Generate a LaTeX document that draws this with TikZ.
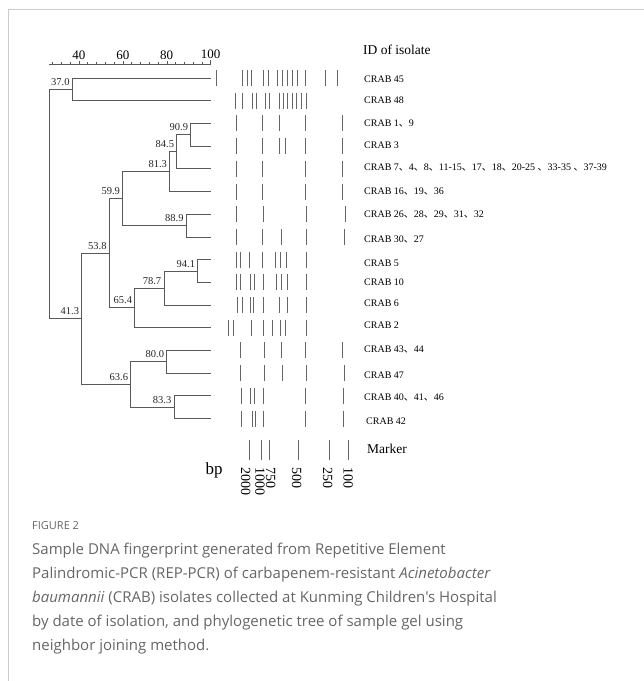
\documentclass[tikz,border=0pt]{standalone}
\usepackage{fontspec}
\setmainfont{Liberation Serif}
\newfontfamily\capfont{Open Sans}
\newfontfamily\cjk{Noto Sans CJK SC}
\newcommand{\dn}{{\cjk 、}}
\usetikzlibrary{positioning}

\begin{document}
\begin{tikzpicture}
[x=1pt, y=-1pt,
 frame/.style={draw=black!20, line width=0.8pt},
 branch/.style={draw=black!65, line width=0.8pt},
 band/.style={draw=black!60, line width=1pt},
 val/.style={font=\fontsize{10.5}{12}\selectfont, inner sep=1pt, text=black!85},
 crab/.style={anchor=west, inner sep=0pt, font=\fontsize{10}{12}\selectfont},
 big/.style={anchor=west, inner sep=0pt, font=\fontsize{13.5}{15}\selectfont},
 size/.style={rotate=-90, anchor=west, inner sep=0pt, font=\fontsize{14}{16}\selectfont},
 scalelab/.style={font=\fontsize{13}{15}\selectfont, inner sep=0pt}]
\useasboundingbox (0,0) rectangle (644,681);
\draw[frame] (8,681) -- (8,9) -- (644,9);
% scale
\node[scalelab] (s40) at (78.9,55) {40};
\node[scalelab] (s60) at (122.8,55) {60};
\node[scalelab] (s80) at (166.7,55) {80};
\node[scalelab] (s100) at (210.7,54) {100};
\draw[branch, line width=0.6pt] (49.3,64) -- (210.7,64)
  (210.7,64) -- ++(0,-4) (201.9,64) -- ++(0,-2) (193.1,64) -- ++(0,-2)
  (184.3,64) -- ++(0,-2) (175.6,64) -- ++(0,-2) (166.8,64) -- ++(0,-3)
  (158.0,64) -- ++(0,-2) (149.2,64) -- ++(0,-2) (140.4,64) -- ++(0,-2)
  (131.6,64) -- ++(0,-2) (122.9,64) -- ++(0,-3) (114.1,64) -- ++(0,-2)
  (105.3,64) -- ++(0,-2) (96.5,64) -- ++(0,-2) (87.7,64) -- ++(0,-2)
  (78.9,64) -- ++(0,-3) (70.2,64) -- ++(0,-2) (61.4,64) -- ++(0,-2)
  (52.6,64) -- ++(0,-2);
% leaves
\coordinate (c45) at (210.7,78);
\coordinate (c48) at (210.7,100.7);
\coordinate (c1) at (210.7,123.4);
\coordinate (c3) at (210.7,146.1);
\coordinate (c7) at (210.7,168.8);
\coordinate (c16) at (210.7,191.5);
\coordinate (c26) at (210.7,214.2);
\coordinate (c30) at (210.7,236.9);
\coordinate (c5) at (210.7,259.6);
\coordinate (c10) at (210.7,282.3);
\coordinate (c6) at (210.7,305);
\coordinate (c2) at (210.7,327.7);
\coordinate (c43) at (210.7,350.4);
\coordinate (c47) at (210.7,373.1);
\coordinate (c40) at (210.7,395.8);
\coordinate (c42) at (210.7,418.5);
% inner nodes
\coordinate (n90) at (190.7,134.75);
\coordinate (n84) at (176.7,151.8);
\coordinate (n81) at (169.6,171.65);
\coordinate (n88) at (186.3,225.55);
\coordinate (n59) at (122.6,198.6);
\coordinate (n94) at (197.7,270.95);
\coordinate (n78) at (163.9,287.98);
\coordinate (n65) at (134.7,307.84);
\coordinate (n53) at (109.2,253.22);
\coordinate (n80) at (166.8,361.75);
\coordinate (n83) at (174.0,407.15);
\coordinate (n63) at (130.8,384.45);
\coordinate (n41) at (81.8,318.84);
\coordinate (n37) at (72.3,89.35);
\coordinate (root) at (49.3,204.1);
\draw[branch] (root) |- (n37);
\draw[branch] (root) |- (n41);
\draw[branch] (n37) |- (c45);
\draw[branch] (n37) |- (c48);
\draw[branch] (n41) |- (n53);
\draw[branch] (n41) |- (n63);
\draw[branch] (n53) |- (n59);
\draw[branch] (n53) |- (n65);
\draw[branch] (n59) |- (n81);
\draw[branch] (n59) |- (n88);
\draw[branch] (n81) |- (n84);
\draw[branch] (n81) |- (c16);
\draw[branch] (n84) |- (n90);
\draw[branch] (n84) |- (c7);
\draw[branch] (n90) |- (c1);
\draw[branch] (n90) |- (c3);
\draw[branch] (n88) |- (c26);
\draw[branch] (n88) |- (c30);
\draw[branch] (n65) |- (n78);
\draw[branch] (n65) |- (c2);
\draw[branch] (n78) |- (n94);
\draw[branch] (n78) |- (c6);
\draw[branch] (n94) |- (c5);
\draw[branch] (n94) |- (c10);
\draw[branch] (n63) |- (n80);
\draw[branch] (n63) |- (n83);
\draw[branch] (n80) |- (c43);
\draw[branch] (n80) |- (c47);
\draw[branch] (n83) |- (c40);
\draw[branch] (n83) |- (c42);
% similarity values
\node[val, above left=2.5pt and 1.5pt of n37] {37.0};
\node[val, above left=2.5pt and 1.5pt of n41] {41.3};
\node[val, above left=2.5pt and 1.5pt of n53] {53.8};
\node[val, above left=2.5pt and 1.5pt of n59] {59.9};
\node[val, above left=2.5pt and 1.5pt of n81] {81.3};
\node[val, above left=2.5pt and 1.5pt of n84] {84.5};
\node[val, above left=2.5pt and 1.5pt of n90] {90.9};
\node[val, above left=2.5pt and 1.5pt of n88] {88.9};
\node[val, above left=2.5pt and 1.5pt of n65] {65.4};
\node[val, above left=2.5pt and 1.5pt of n78] {78.7};
\node[val, above left=2.5pt and 1.5pt of n94] {94.1};
\node[val, above left=2.5pt and 1.5pt of n63] {63.6};
\node[val, above left=2.5pt and 1.5pt of n80] {80.0};
\node[val, above left=2.5pt and 1.5pt of n83] {83.3};
% gel lanes
\draw[band] (216,70) -- ++(0,16) (242.3,70) -- ++(0,16) (247,70) -- ++(0,16)
  (251.7,70) -- ++(0,16) (263.7,70) -- ++(0,16) (268.3,70) -- ++(0,16)
  (277.3,70) -- ++(0,16) (282,70) -- ++(0,16) (287.3,70) -- ++(0,16)
  (292.7,70) -- ++(0,16) (297.7,70) -- ++(0,16) (305,70) -- ++(0,16)
  (325.7,70) -- ++(0,16) (337.7,70) -- ++(0,16);
\draw[band] (235,92.7) -- ++(0,16) (242.5,92.7) -- ++(0,16) (252,92.7) -- ++(0,16)
  (256,92.7) -- ++(0,16) (265,92.7) -- ++(0,16) (269,92.7) -- ++(0,16)
  (279,92.7) -- ++(0,16) (283,92.7) -- ++(0,16) (287.5,92.7) -- ++(0,16)
  (292,92.7) -- ++(0,16) (296.5,92.7) -- ++(0,16) (301,92.7) -- ++(0,16)
  (306.7,92.7) -- ++(0,16);
\draw[band] (236,115.4) -- ++(0,16) (262.3,115.4) -- ++(0,16) (279.3,115.4) -- ++(0,16)
  (305.3,115.4) -- ++(0,16) (342.7,115.4) -- ++(0,16);
\draw[band] (236,138.1) -- ++(0,16) (262.3,138.1) -- ++(0,16) (279.3,138.1) -- ++(0,16)
  (285.7,138.1) -- ++(0,16) (305.3,138.1) -- ++(0,16) (342.7,138.1) -- ++(0,16);
\draw[band] (236,160.8) -- ++(0,16) (262.3,160.8) -- ++(0,16) (305.3,160.8) -- ++(0,16)
  (342.7,160.8) -- ++(0,16);
\draw[band] (236,183.5) -- ++(0,16) (262.3,183.5) -- ++(0,16) (305.3,183.5) -- ++(0,16)
  (342.7,183.5) -- ++(0,16);
\draw[band] (236,206.2) -- ++(0,16) (263.3,206.2) -- ++(0,16) (306,206.2) -- ++(0,16)
  (345.3,206.2) -- ++(0,16);
\draw[band] (236,228.9) -- ++(0,16) (262.7,228.9) -- ++(0,16) (281.3,228.9) -- ++(0,16)
  (306,228.9) -- ++(0,16) (344.3,228.9) -- ++(0,16);
\draw[band] (236,251.6) -- ++(0,16) (240,251.6) -- ++(0,16) (249.3,251.6) -- ++(0,16)
  (262.7,251.6) -- ++(0,16) (275.3,251.6) -- ++(0,16) (280,251.6) -- ++(0,16)
  (286.7,251.6) -- ++(0,16) (306,251.6) -- ++(0,16);
\draw[band] (236,274.3) -- ++(0,16) (240,274.3) -- ++(0,16) (250,274.3) -- ++(0,16)
  (254.3,274.3) -- ++(0,16) (263.3,274.3) -- ++(0,16) (276.7,274.3) -- ++(0,16)
  (281.7,274.3) -- ++(0,16) (287.3,274.3) -- ++(0,16) (306,274.3) -- ++(0,16);
\draw[band] (237.3,297) -- ++(0,16) (242,297) -- ++(0,16) (250,297) -- ++(0,16)
  (253.3,297) -- ++(0,16) (263.3,297) -- ++(0,16) (279.3,297) -- ++(0,16)
  (287.3,297) -- ++(0,16) (306,297) -- ++(0,16);
\draw[band] (228.7,319.7) -- ++(0,16) (233.3,319.7) -- ++(0,16) (251,319.7) -- ++(0,16)
  (263.3,319.7) -- ++(0,16) (272.7,319.7) -- ++(0,16) (280,319.7) -- ++(0,16)
  (285,319.7) -- ++(0,16) (306,319.7) -- ++(0,16);
\draw[band] (240.7,342.4) -- ++(0,16) (264.3,342.4) -- ++(0,16) (281.3,342.4) -- ++(0,16)
  (305.3,342.4) -- ++(0,16) (342.7,342.4) -- ++(0,16);
\draw[band] (240.7,365.1) -- ++(0,16) (264.3,365.1) -- ++(0,16) (282,365.1) -- ++(0,16)
  (306,365.1) -- ++(0,16) (344.7,365.1) -- ++(0,16);
\draw[band] (241.3,387.8) -- ++(0,16) (250.7,387.8) -- ++(0,16) (254,387.8) -- ++(0,16)
  (263.3,387.8) -- ++(0,16) (305.3,387.8) -- ++(0,16) (343.3,387.8) -- ++(0,16);
\draw[band] (241.3,410.5) -- ++(0,16) (252.7,410.5) -- ++(0,16) (255,410.5) -- ++(0,16)
  (263.3,410.5) -- ++(0,16) (305.3,410.5) -- ++(0,16) (343.3,410.5) -- ++(0,16);
% marker lane
\draw[band] (249.3,440) -- ++(0,20) (261,440) -- ++(0,20) (269.3,440) -- ++(0,20)
  (298.5,440) -- ++(0,20) (329,440) -- ++(0,20) (348,440) -- ++(0,20);
% isolate IDs
\node[big] (head) at (363,50) {ID of isolate};
\node[crab] (l45) at (364,79) {CRAB 45};
\node[crab] (l48) at (364,100.7) {CRAB 48};
\node[crab] (l1) at (364,123) {CRAB 1\dn 9};
\node[crab] (l3) at (364,145) {CRAB 3};
\node[crab] (l7) at (364,167) {CRAB 7\dn 4\dn 8\dn 11-15\dn 17\dn 18\dn 20-25 \dn 33-35 \dn 37-39};
\node[crab] (l16) at (364,191) {CRAB 16\dn 19\dn 36};
\node[crab] (l26) at (364,214) {CRAB 26\dn 28\dn 29\dn 31\dn 32};
\node[crab] (l30) at (364,239) {CRAB 30\dn 27};
\node[crab] (l5) at (364,263) {CRAB 5};
\node[crab] (l10) at (364,282) {CRAB 10};
\node[crab] (l6) at (364,303.5) {CRAB 6};
\node[crab] (l2) at (364,325.5) {CRAB 2};
\node[crab] (l43) at (364,349) {CRAB 43\dn 44};
\node[crab] (l47) at (364,375) {CRAB 47};
\node[crab] (l40) at (364,397) {CRAB 40\dn 41\dn 46};
\node[crab] (l42) at (366,421) {CRAB 42};
\node[big] (mark) at (367,449) {Marker};
% fragment sizes
\node[font=\fontsize{17}{19}\selectfont, inner sep=0pt] (bp) at (214,470) {bp};
\node[size] (m2000) at (245.7,467) {2000};
\node[size] (m1000) at (260,467) {1000};
\node[size] (m750) at (270.7,467) {750};
\node[size] (m500) at (296.7,467) {500};
\node[size] (m250) at (327.7,467) {250};
\node[size] (m100) at (348.3,467) {100};
% caption
\node[anchor=base west, inner sep=0pt, text=black!60, font=\capfont\fontsize{11}{13}\selectfont] (fig) at (32,529) {FIGURE 2};
\node[anchor=north west, inner sep=0pt, align=left, text=black!60,
      font=\capfont\fontsize{15}{24}\selectfont] (cap) at (32,543)
 {Sample DNA fingerprint generated from Repetitive Element\\
  Palindromic-PCR (REP-PCR) of carbapenem-resistant \textit{Acinetobacter}\\
  \textit{baumannii} (CRAB) isolates collected at Kunming Children's Hospital\\
  by date of isolation, and phylogenetic tree of sample gel using\\
  neighbor joining method.};
\end{tikzpicture}
\end{document}
